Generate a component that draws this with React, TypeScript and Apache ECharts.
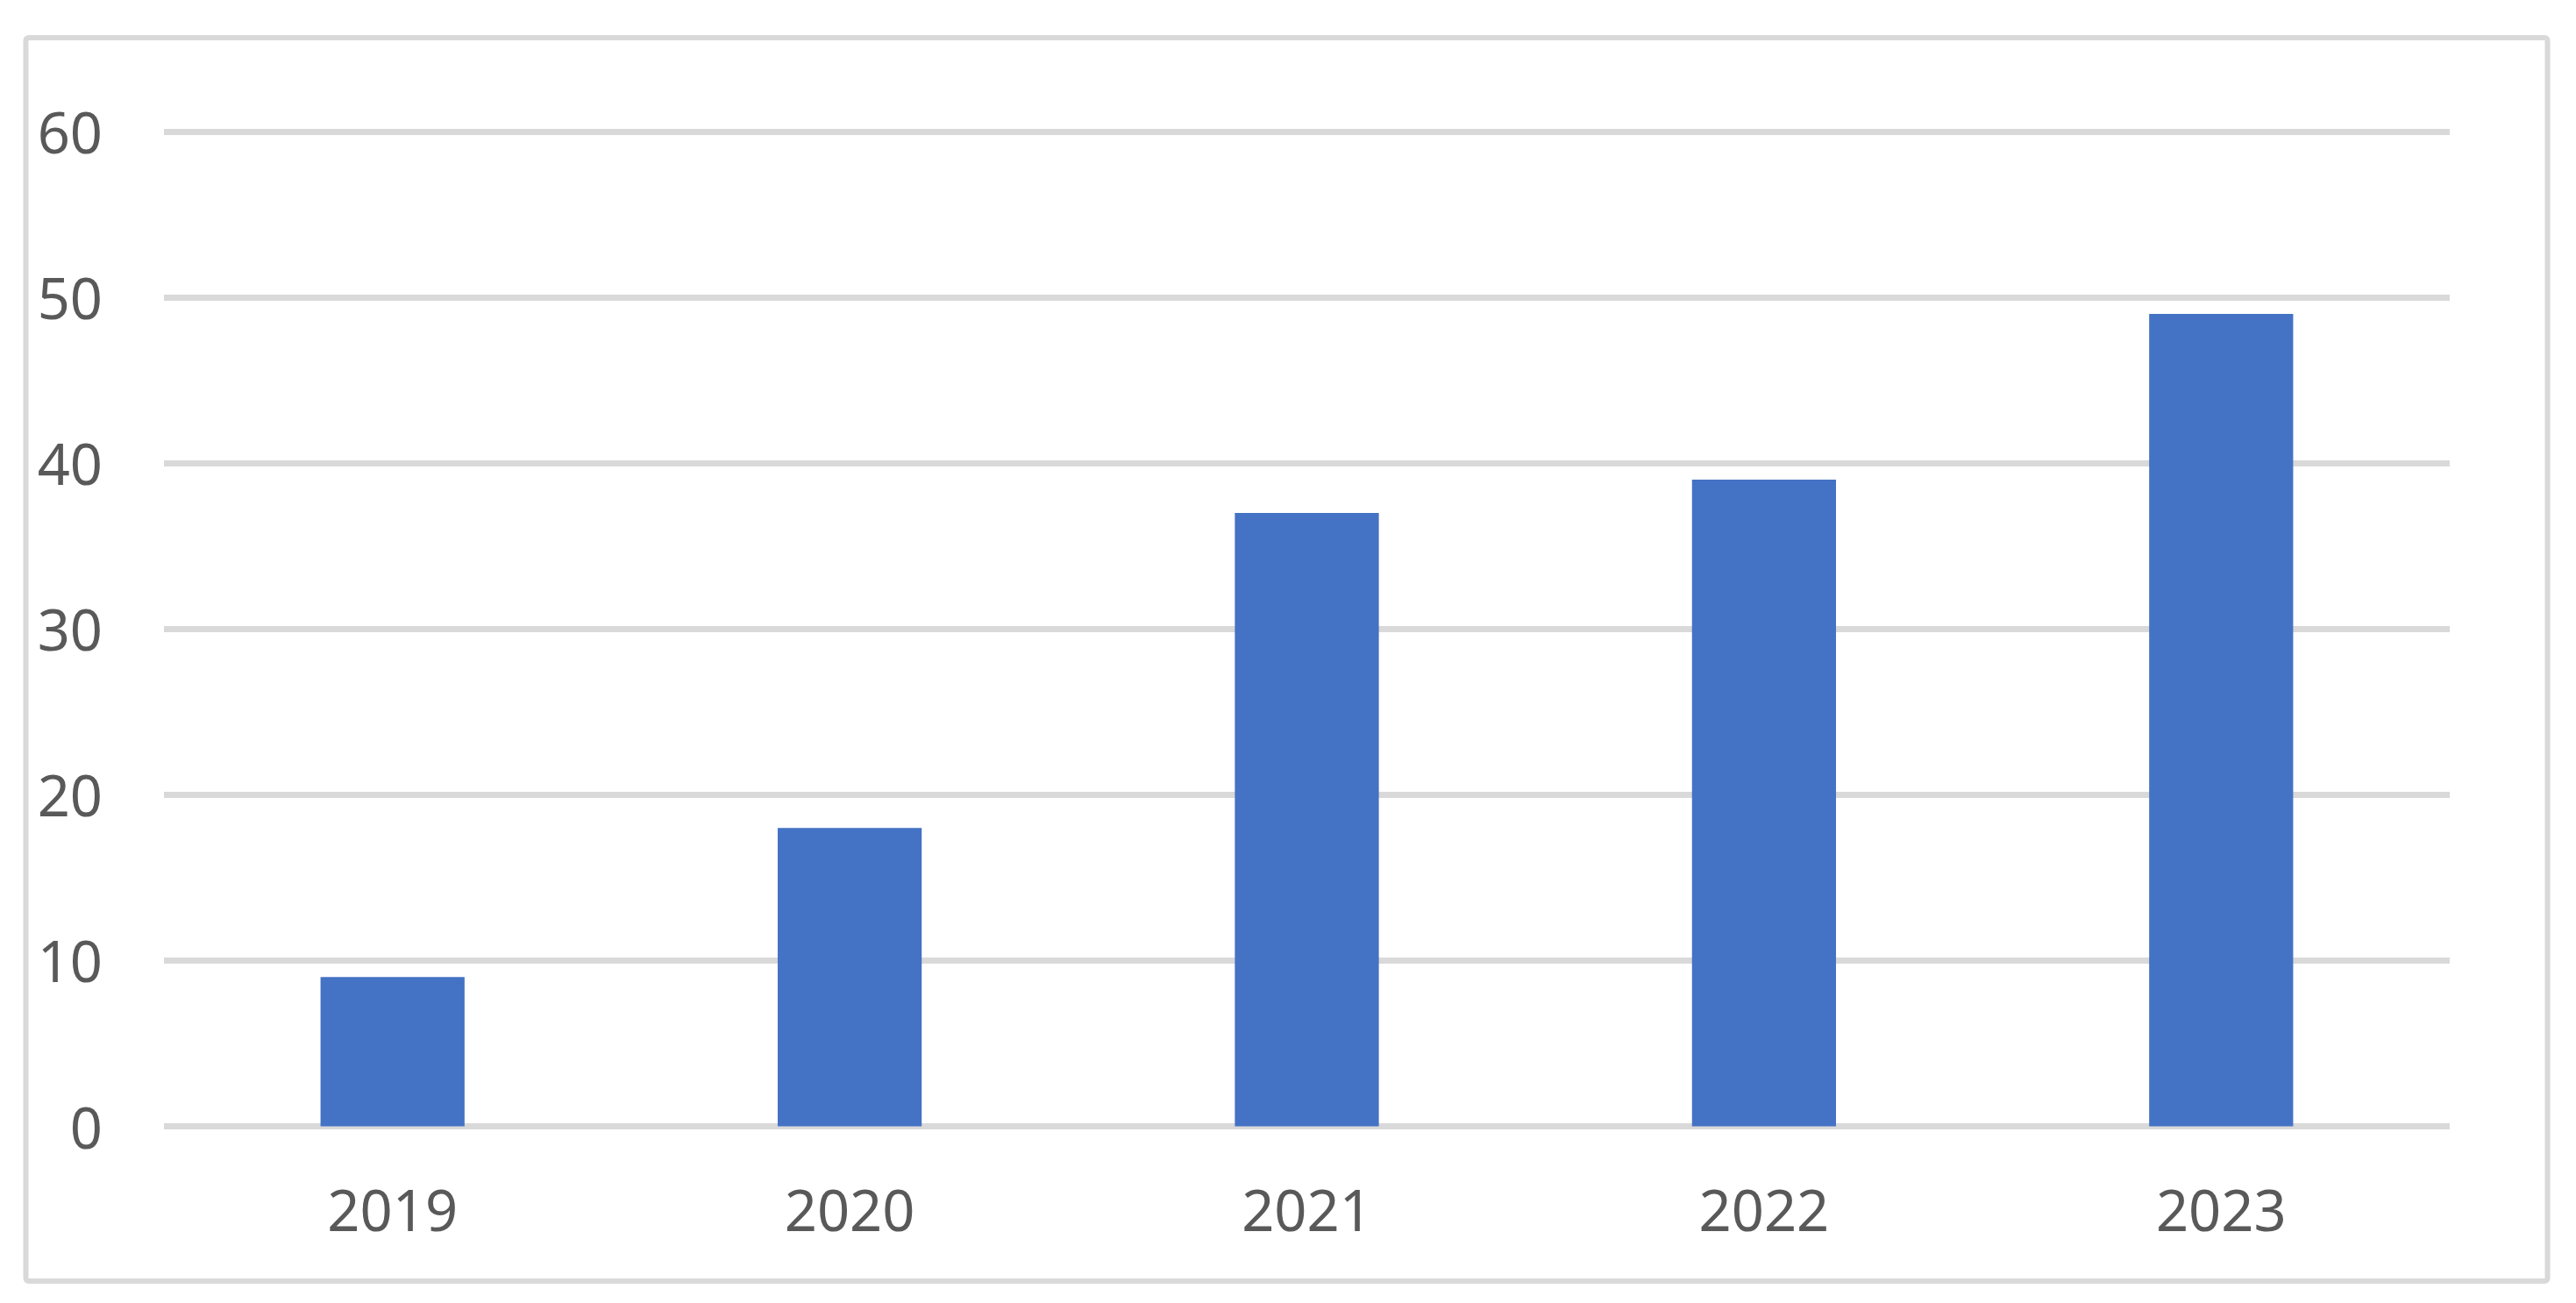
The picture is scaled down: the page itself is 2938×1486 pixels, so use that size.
import React, { useEffect, useRef } from "react";
import * as echarts from "echarts";

const categories = ["2019", "2020", "2021", "2022", "2023"];
const values = [9, 18, 37, 39, 49];
const yTicks = { min: 0, max: 60, interval: 10 };

export default function App() {
  const ref = useRef<HTMLDivElement>(null);
  useEffect(() => {
    if (!ref.current) return;
    const chart = echarts.init(ref.current, null, { renderer: "svg" });
    const font = "'Noto Sans', 'Open Sans', sans-serif";
    chart.setOption({
      animation: false,
      backgroundColor: "#ffffff",
      grid: { left: 187, right: 144, top: 150, bottom: 201.5, containLabel: false },
      graphic: [
        {
          type: "rect",
          shape: { x: 29.5, y: 43, width: 2876, height: 1418, r: 3 },
          style: { fill: "none", stroke: "#d9d9d9", lineWidth: 6 },
          silent: true,
        },
      ],
      xAxis: {
        type: "category",
        data: categories,
        axisLine: { show: false },
        axisTick: { show: false },
        splitLine: { show: false },
        axisLabel: { color: "#595959", fontSize: 65, fontFamily: font, margin: 62 },
      },
      yAxis: {
        type: "value",
        min: yTicks.min,
        max: yTicks.max,
        interval: yTicks.interval,
        axisLine: { show: false },
        axisTick: { show: false },
        splitLine: { show: true, lineStyle: { color: "#d9d9d9", width: 7 } },
        axisLabel: { color: "#595959", fontSize: 65, fontFamily: font, margin: 70 },
      },
      series: [
        {
          type: "bar",
          data: values,
          barWidth: "31.5%",
          itemStyle: { color: "#4472C4" },
        },
      ],
    });
    return () => chart.dispose();
  }, []);
  return (
    <div
      ref={ref}
      style={{ position: "absolute", left: 0, top: 0, width: 2938, height: 1486, background: "#fff" }}
    />
  );
}
